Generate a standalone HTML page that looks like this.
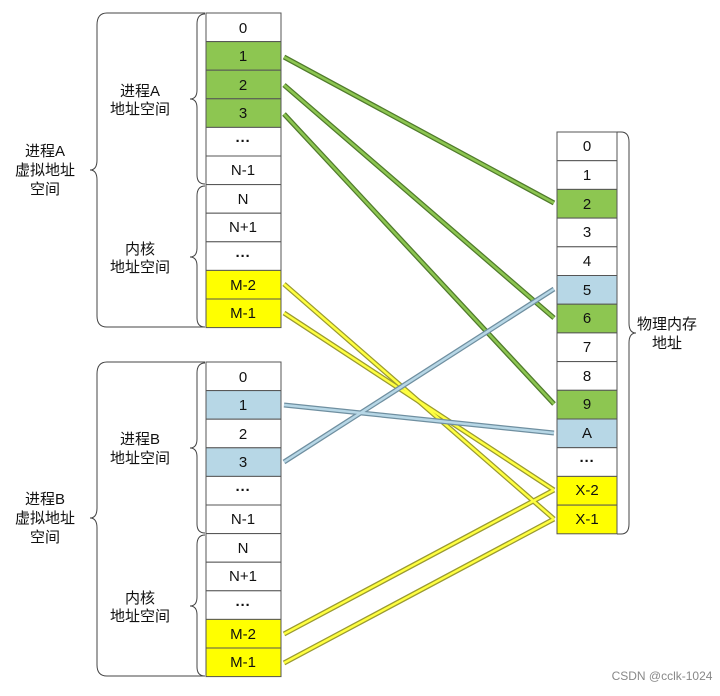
<!DOCTYPE html>
<html><head><meta charset="utf-8"><style>
body{margin:0;background:#fff}
svg text{font-family:"Liberation Sans","Noto Sans CJK SC",sans-serif;font-size:15px;fill:#111}
</style></head><body>
<svg width="720" height="691" viewBox="0 0 720 691" xmlns="http://www.w3.org/2000/svg">
<defs>
<marker id="ah" viewBox="0 0 10 10" refX="9" refY="5" markerWidth="5" markerHeight="5" orient="auto-start-reverse"><path d="M0,0 L10,5 L0,10" fill="none" stroke="#333" stroke-width="1.5"/></marker>
</defs>
<g id="cells" stroke="#555" stroke-width="1">
<rect x="206" y="13" width="75" height="28.6" fill="#fff"/>
<rect x="206" y="41.6" width="75" height="28.6" fill="#8dc651"/>
<rect x="206" y="70.2" width="75" height="28.6" fill="#8dc651"/>
<rect x="206" y="98.8" width="75" height="28.6" fill="#8dc651"/>
<rect x="206" y="127.4" width="75" height="28.6" fill="#fff"/>
<rect x="206" y="156" width="75" height="28.6" fill="#fff"/>
<rect x="206" y="184.6" width="75" height="28.6" fill="#fff"/>
<rect x="206" y="213.2" width="75" height="28.6" fill="#fff"/>
<rect x="206" y="241.8" width="75" height="28.6" fill="#fff"/>
<rect x="206" y="270.4" width="75" height="28.6" fill="#ffff00"/>
<rect x="206" y="299" width="75" height="28.6" fill="#ffff00"/>
<rect x="206" y="362" width="75" height="28.6" fill="#fff"/>
<rect x="206" y="390.6" width="75" height="28.6" fill="#b7d7e6"/>
<rect x="206" y="419.2" width="75" height="28.6" fill="#fff"/>
<rect x="206" y="447.8" width="75" height="28.6" fill="#b7d7e6"/>
<rect x="206" y="476.4" width="75" height="28.6" fill="#fff"/>
<rect x="206" y="505" width="75" height="28.6" fill="#fff"/>
<rect x="206" y="533.6" width="75" height="28.6" fill="#fff"/>
<rect x="206" y="562.2" width="75" height="28.6" fill="#fff"/>
<rect x="206" y="590.8" width="75" height="28.6" fill="#fff"/>
<rect x="206" y="619.4" width="75" height="28.6" fill="#ffff00"/>
<rect x="206" y="648" width="75" height="28.6" fill="#ffff00"/>
<rect x="557" y="132" width="60" height="28.7" fill="#fff"/>
<rect x="557" y="160.7" width="60" height="28.7" fill="#fff"/>
<rect x="557" y="189.4" width="60" height="28.7" fill="#8dc651"/>
<rect x="557" y="218.1" width="60" height="28.7" fill="#fff"/>
<rect x="557" y="246.8" width="60" height="28.7" fill="#fff"/>
<rect x="557" y="275.5" width="60" height="28.7" fill="#b7d7e6"/>
<rect x="557" y="304.2" width="60" height="28.7" fill="#8dc651"/>
<rect x="557" y="332.9" width="60" height="28.7" fill="#fff"/>
<rect x="557" y="361.6" width="60" height="28.7" fill="#fff"/>
<rect x="557" y="390.3" width="60" height="28.7" fill="#8dc651"/>
<rect x="557" y="419" width="60" height="28.7" fill="#b7d7e6"/>
<rect x="557" y="447.7" width="60" height="28.7" fill="#fff"/>
<rect x="557" y="476.4" width="60" height="28.7" fill="#ffff00"/>
<rect x="557" y="505.1" width="60" height="28.7" fill="#ffff00"/>
</g>
<g text-anchor="middle">
<text x="243" y="33">0</text><text x="243" y="61">1</text><text x="243" y="90">2</text><text x="243" y="118">3</text><text x="243" y="146" font-weight="bold">···</text><text x="243" y="175">N-1</text><text x="243" y="204">N</text><text x="243" y="232">N+1</text><text x="243" y="261" font-weight="bold">···</text><text x="243" y="290">M-2</text><text x="243" y="318">M-1</text>
<text x="243" y="382">0</text><text x="243" y="410">1</text><text x="243" y="439">2</text><text x="243" y="467">3</text><text x="243" y="495" font-weight="bold">···</text><text x="243" y="524">N-1</text><text x="243" y="553">N</text><text x="243" y="581">N+1</text><text x="243" y="610" font-weight="bold">···</text><text x="243" y="639">M-2</text><text x="243" y="667">M-1</text>
<text x="587" y="151">0</text><text x="587" y="180">1</text><text x="587" y="209">2</text><text x="587" y="237">3</text><text x="587" y="266">4</text><text x="587" y="295">5</text><text x="587" y="323">6</text><text x="587" y="352">7</text><text x="587" y="381">8</text><text x="587" y="409">9</text><text x="587" y="438">A</text><text x="587" y="466" font-weight="bold">···</text><text x="587" y="495">X-2</text><text x="587" y="524">X-1</text>
<text x="140" y="96">进程A</text><text x="140" y="114">地址空间</text>
<text x="140" y="254">内核</text><text x="140" y="272">地址空间</text>
<text x="45" y="156">进程A</text><text x="45" y="175">虚拟地址</text><text x="45" y="194">空间</text>
<text x="140" y="444">进程B</text><text x="140" y="463">地址空间</text>
<text x="140" y="603">内核</text><text x="140" y="621">地址空间</text>
<text x="45" y="504">进程B</text><text x="45" y="523">虚拟地址</text><text x="45" y="542">空间</text>
<text x="667" y="329">物理内存</text><text x="667" y="348">地址</text>
</g>
<g fill="none" stroke="#444" stroke-width="1">
<path d="M205,14 Q197,14 197,24 L197,90 Q197,99 190,99 Q197,99 197,108 L197,175 Q197,184 205,184"/>
<path d="M205,186 Q197,186 197,196 L197,248 Q197,257 190,257 Q197,257 197,266 L197,318 Q197,327 205,327"/>
<path d="M205,13 L107,13 Q97,13 97,25 L97,160 Q97,170 90,170 Q97,170 97,180 L97,316 Q97,327 107,327 L205,327"/>
<path d="M205,363 Q197,363 197,373 L197,439 Q197,448 190,448 Q197,448 197,457 L197,524 Q197,533 205,533"/>
<path d="M205,535 Q197,535 197,545 L197,597 Q197,606 190,606 Q197,606 197,615 L197,667 Q197,676 205,676"/>
<path d="M205,362 L107,362 Q97,362 97,374 L97,508 Q97,518 90,518 Q97,518 97,528 L97,665 Q97,676 107,676 L205,676"/>
<path d="M617,132 L621,132 Q629,132 629,142 L629,323 Q629,333 636,333 Q629,333 629,343 L629,524 Q629,534 621,534 L617,534"/>
</g>
<g stroke-linecap="butt">
<g stroke="#4f7a2b" stroke-width="5">
<line x1="284" y1="57" x2="554" y2="203"/><line x1="284" y1="85" x2="554" y2="318"/><line x1="284" y1="114" x2="554" y2="404"/></g>
<g stroke="#8dc651" stroke-width="2.5">
<line x1="284" y1="57" x2="554" y2="203"/><line x1="284" y1="85" x2="554" y2="318"/><line x1="284" y1="114" x2="554" y2="404"/></g>
<g stroke="#9a9a30" stroke-width="5">
<line x1="284" y1="284" x2="554" y2="519"/><line x1="284" y1="313" x2="554" y2="490"/><line x1="284" y1="634" x2="554" y2="490"/><line x1="284" y1="663" x2="554" y2="519"/></g>
<g stroke="#ffff40" stroke-width="2.5">
<line x1="284" y1="284" x2="554" y2="519"/><line x1="284" y1="313" x2="554" y2="490"/><line x1="284" y1="634" x2="554" y2="490"/><line x1="284" y1="663" x2="554" y2="519"/></g>
<g stroke="#6f8fa0" stroke-width="5">
<line x1="284" y1="405" x2="554" y2="433"/><line x1="284" y1="462" x2="554" y2="289"/></g>
<g stroke="#b7d7e6" stroke-width="2.5">
<line x1="284" y1="405" x2="554" y2="433"/><line x1="284" y1="462" x2="554" y2="289"/></g>
</g>
<text x="662" y="680" text-anchor="middle" style="font-size:12px;fill:#888">CSDN @cclk-1024</text>
</svg>
</body></html>
